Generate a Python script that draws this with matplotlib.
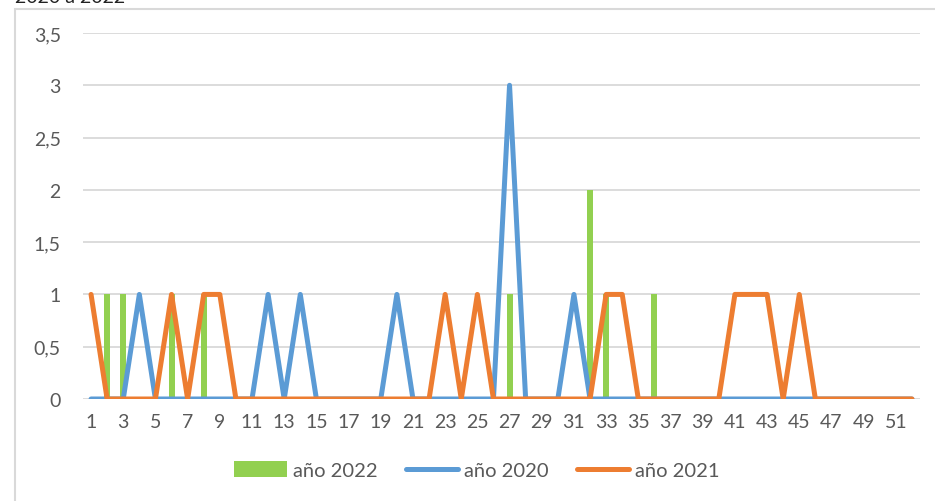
import matplotlib
matplotlib.use("Agg")
import matplotlib.pyplot as plt
from matplotlib.patches import Rectangle

plt.rcParams['font.family'] = ['Lato', 'DejaVu Sans']

# weekly counts, weeks 1..52
weeks = list(range(1, 53))
cases_2022 = [0, 1, 1, 0, 0, 1, 0, 1, 0, 0,
              0, 0, 0, 0, 0, 0, 0, 0, 0, 0,
              0, 0, 0, 0, 0, 0, 1, 0, 0, 0,
              0, 2, 1, 0, 0, 1, 0, 0, 0, 0,
              0, 0, 0, 0, 0, 0, 0, 0, 0, 0,
              0, 0]
cases_2020 = [0, 0, 0, 1, 0, 0, 0, 0, 0, 0,
              0, 1, 0, 1, 0, 0, 0, 0, 0, 1,
              0, 0, 0, 0, 0, 0, 3, 0, 0, 0,
              1, 0, 0, 0, 0, 0, 0, 0, 0, 0,
              0, 0, 0, 0, 0, 0, 0, 0, 0, 0,
              0, 0]
cases_2021 = [1, 0, 0, 0, 0, 1, 0, 1, 1, 0,
              0, 0, 0, 0, 0, 0, 0, 0, 0, 0,
              0, 0, 1, 0, 1, 0, 0, 0, 0, 0,
              0, 0, 1, 1, 0, 0, 0, 0, 0, 0,
              1, 1, 1, 0, 1, 0, 0, 0, 0, 0,
              0, 0]

y_ticks = [0, 0.5, 1, 1.5, 2, 2.5, 3, 3.5]
y_labels = ["0", "0,5", "1", "1,5", "2", "2,5", "3", "3,5"]
x_ticks = list(range(1, 52, 2))

GREEN = "#92D050"
BLUE = "#5B9BD5"
ORANGE = "#ED7D31"
GRID = "#D9D9D9"
TEXT = "#595959"

fig = plt.figure(figsize=(9.35, 5.02), dpi=100)
ax = fig.add_axes([83 / 935, 1 - 400 / 502, 837 / 935, 366 / 502])

# chart frame and title (top edge runs off the canvas)
fig.patches.append(Rectangle((15 / 935, -0.05), 1.2, 1.05 - 10 / 502,
                             transform=fig.transFigure, fill=False,
                             edgecolor=GRID, linewidth=1.5))
fig.text(15 / 935, 1 - 3 / 502, "2020 a 2022", fontsize=14,
         color="#222222", va="baseline", ha="left")

bars = ax.bar(weeks, cases_2022, width=0.37, color=GREEN, label="año 2022", zorder=2)
line20, = ax.plot(weeks, cases_2020, color=BLUE, linewidth=3.6, label="año 2020",
                  solid_joinstyle="round", solid_capstyle="round", zorder=3)
line21, = ax.plot(weeks, cases_2021, color=ORANGE, linewidth=3.6, label="año 2021",
                  solid_joinstyle="round", solid_capstyle="round", zorder=4)

ax.set_xlim(0.5, 52.5)
ax.set_ylim(0, 3.5)
ax.set_yticks(y_ticks)
ax.set_yticklabels(y_labels)
ax.set_xticks(x_ticks)
ax.set_xticklabels([str(w) for w in x_ticks])
ax.tick_params(axis="both", length=0, labelsize=14, labelcolor=TEXT)
ax.tick_params(axis="y", pad=16)
ax.tick_params(axis="x", pad=10)

ax.grid(axis="y", color=GRID, linewidth=1.3, zorder=0)
ax.set_axisbelow(True)
for s in ax.spines.values():
    s.set_visible(False)

leg = fig.legend([bars, line20, line21], ["año 2022", "año 2020", "año 2021"],
                 loc="center", bbox_to_anchor=(477 / 935, 1 - 471 / 502),
                 ncol=3, frameon=False, fontsize=14.5, handlelength=2.6,
                 handletextpad=0.3, columnspacing=1.4, handleheight=0.8)
for t in leg.get_texts():
    t.set_color(TEXT)

fig.savefig("out.png", dpi=100)
